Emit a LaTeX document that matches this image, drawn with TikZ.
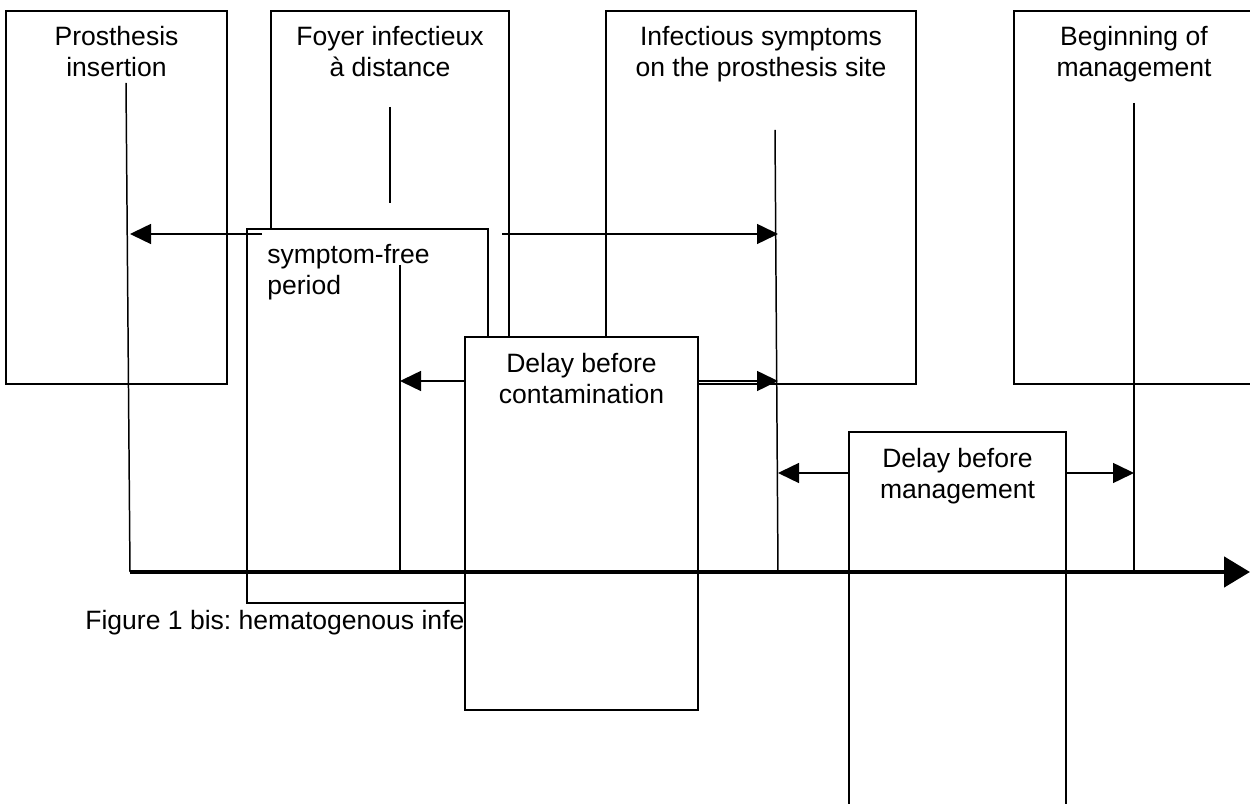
\documentclass[tikz,border=0pt]{standalone}
\usepackage{fontspec}
\setmainfont{Liberation Sans}
\usepackage{tikz}
\usetikzlibrary{arrows.meta, positioning}
\frenchspacing

\begin{document}
\begin{tikzpicture}[
    font=\fontsize{15.1}{17.5}\selectfont,
    box/.style={rectangle, draw=black, fill=white, line width=0.85pt, inner sep=0pt, outer sep=0pt, anchor=north west},
    lbl/.style={inner sep=0pt, align=center},
    marker/.style={line width=0.85pt},
    arrow/.style={-{Triangle[length=0.42cm, width=0.40cm]}, line width=0.85pt},
    axis/.style={-{Triangle[length=0.52cm, width=0.60cm]}, line width=2.7pt}
]
\useasboundingbox (0,0) rectangle (25,16.08);

% Events on top
\node[box, minimum width=4.42cm, minimum height=7.46cm] (pros) at (0.12,15.86) {};
\node[lbl, below=0.3cm of pros.north] (prosT) {Prosthesis\\insertion};
\node[box, minimum width=4.76cm, minimum height=7.46cm] (foyer) at (5.42,15.86) {};
\node[lbl, below=0.3cm of foyer.north] (foyerT) {Foyer infectieux\\à distance};
\node[box, minimum width=6.20cm, minimum height=7.46cm] (infect) at (12.12,15.86) {};
\node[lbl, below=0.3cm of infect.north] (infectT) {Infectious symptoms\\on the prosthesis site};
\node[box, minimum width=4.80cm, minimum height=7.46cm] (begin) at (20.28,15.86) {};
\node[lbl, below=0.3cm of begin.north] (beginT) {Beginning of\\management};

\coordinate (fTop) at (7.80,13.94);
\coordinate (fBot) at (7.80,12.02);
\draw[marker] (fTop) -- (fBot);

% Caption
\node[lbl, anchor=base west] (cap) at (1.70,3.48) {Figure 1 bis: hematogenous infection};

% Delays
\node[box, minimum width=4.82cm, minimum height=7.48cm] (sfree) at (4.94,11.50) {};
\node[lbl, align=left, below right=0.3cm and 0.4cm of sfree.north west] (sfreeT) {symptom-free\\period};
\node[box, minimum width=4.66cm, minimum height=7.46cm] (dcon) at (9.30,9.34) {};
\node[lbl, below=0.32cm of dcon.north] (dconT) {Delay before\\contamination};
\node[box, minimum width=4.34cm, minimum height=7.60cm] (dman) at (16.98,7.44) {};
\node[lbl, below=0.32cm of dman.north] (dmanT) {Delay before\\management};

% Time marks
\coordinate (pTop) at (2.52,14.42);
\coordinate (pBot) at (2.60,4.64);
\coordinate (sTop) at (8.00,10.78);
\coordinate (sBot) at (8.00,4.64);
\coordinate (iTop) at (15.50,13.48);
\coordinate (iBot) at (15.56,4.64);
\coordinate (bTop) at (22.68,14.02);
\coordinate (bBot) at (22.68,4.64);
\draw[marker] (pTop) -- (pBot);
\draw[marker] (sTop) -- (sBot);
\draw[marker] (iTop) -- (iBot);
\draw[marker] (bTop) -- (bBot);

% Arrows
\coordinate (sfL) at (5.24,11.40);
\coordinate (sfR) at (10.04,11.40);
\coordinate (lvlC) at (0,8.46);
\coordinate (lvlM) at (0,6.62);
\draw[arrow] (sfL) -- (pBot |- sfL);
\draw[arrow] (sfR) -- (iBot |- sfR);
\draw[arrow] (dcon.west |- lvlC) -- (sBot |- lvlC);
\draw[arrow] (dcon.east |- lvlC) -- (iBot |- lvlC);
\draw[arrow] (dman.west |- lvlM) -- (iBot |- lvlM);
\draw[arrow] (dman.east |- lvlM) -- (bBot |- lvlM);

% Time axis
\coordinate (axEnd) at (25,4.64);
\draw[axis] (pBot) -- (axEnd);
\end{tikzpicture}
\end{document}
